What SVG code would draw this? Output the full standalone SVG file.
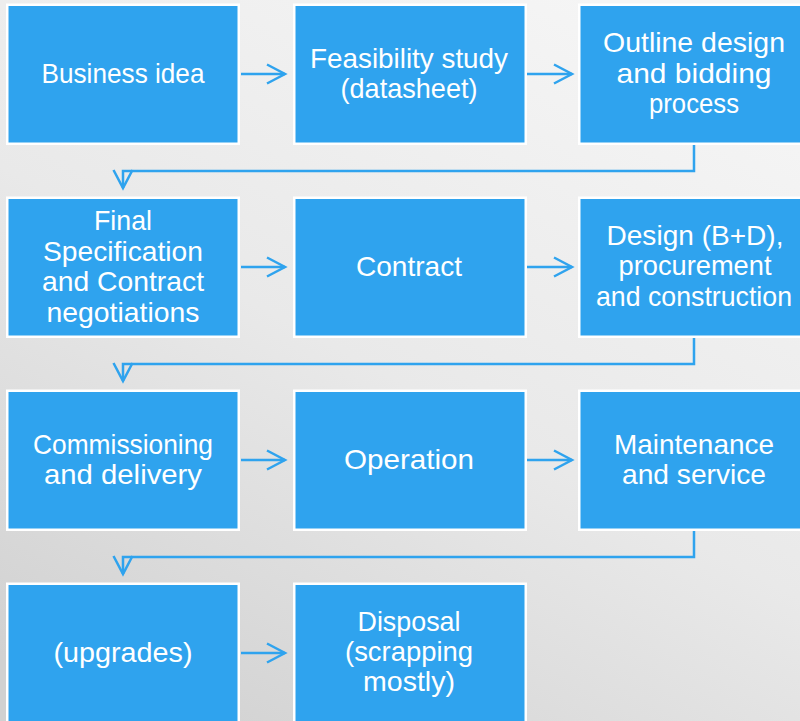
<svg xmlns="http://www.w3.org/2000/svg" width="800" height="721" viewBox="0 0 800 721">
<defs>
<linearGradient id="bg" x1="0.75" y1="0" x2="0.15" y2="1">
<stop offset="0" stop-color="#f5f5f5"/>
<stop offset="0.5" stop-color="#e9e9e9"/>
<stop offset="1" stop-color="#d1d1d1"/>
</linearGradient>
<marker id="arr" markerUnits="userSpaceOnUse" viewBox="-22 -12 26 24" markerWidth="26" markerHeight="24" refX="0" refY="0" orient="auto" overflow="visible">
<path d="M-18,-9.5 L0,0 L-18,9.5" fill="none" stroke="#2fa3ee" stroke-width="2.5"/>
</marker>
<style>
.box{fill:#2fa3ee;stroke:#ffffff;stroke-width:2.5}
.t{font-family:"Liberation Sans",Arial,sans-serif;font-size:28px;fill:#ffffff;text-anchor:middle}
.c{fill:none;stroke:#2fa3ee;stroke-width:2.5}
</style>
</defs>
<rect x="0" y="0" width="800" height="721" fill="url(#bg)"/>

<g id="n1"><rect class="box" x="7.25" y="4.75" width="231.5" height="139"/>
<text class="t" x="123" y="83" textLength="163" lengthAdjust="spacingAndGlyphs">Business idea</text></g>
<g id="n2"><rect class="box" x="294.25" y="4.75" width="231.5" height="139"/>
<text class="t" x="409" y="67.5" textLength="198" lengthAdjust="spacingAndGlyphs">Feasibility study</text>
<text class="t" x="409" y="98" textLength="137" lengthAdjust="spacingAndGlyphs">(datasheet)</text></g>
<g id="n3"><rect class="box" x="579.25" y="4.75" width="231.5" height="139"/>
<text class="t" x="694" y="52" textLength="182" lengthAdjust="spacingAndGlyphs">Outline design</text>
<text class="t" x="694" y="82.5" textLength="155" lengthAdjust="spacingAndGlyphs">and bidding</text>
<text class="t" x="694" y="113" textLength="90" lengthAdjust="spacingAndGlyphs">process</text></g>

<g id="n4"><rect class="box" x="7.25" y="197.75" width="231.5" height="139"/>
<text class="t" x="123" y="230" textLength="58" lengthAdjust="spacingAndGlyphs">Final</text>
<text class="t" x="123" y="260.5" textLength="160" lengthAdjust="spacingAndGlyphs">Specification</text>
<text class="t" x="123" y="291" textLength="162" lengthAdjust="spacingAndGlyphs">and Contract</text>
<text class="t" x="123" y="321.5" textLength="153" lengthAdjust="spacingAndGlyphs">negotiations</text></g>
<g id="n5"><rect class="box" x="294.25" y="197.75" width="231.5" height="139"/>
<text class="t" x="409" y="276" textLength="106" lengthAdjust="spacingAndGlyphs">Contract</text></g>
<g id="n6"><rect class="box" x="579.25" y="197.75" width="231.5" height="139"/>
<text class="t" x="695" y="244.5" textLength="177" lengthAdjust="spacingAndGlyphs">Design (B+D),</text>
<text class="t" x="695" y="275" textLength="153" lengthAdjust="spacingAndGlyphs">procurement</text>
<text class="t" x="694" y="305.5" textLength="196" lengthAdjust="spacingAndGlyphs">and construction</text></g>

<g id="n7"><rect class="box" x="7.25" y="390.75" width="231.5" height="139"/>
<text class="t" x="123" y="453.5" textLength="180" lengthAdjust="spacingAndGlyphs">Commissioning</text>
<text class="t" x="123" y="484" textLength="158" lengthAdjust="spacingAndGlyphs">and delivery</text></g>
<g id="n8"><rect class="box" x="294.25" y="390.75" width="231.5" height="139"/>
<text class="t" x="409" y="469" textLength="130" lengthAdjust="spacingAndGlyphs">Operation</text></g>
<g id="n9"><rect class="box" x="579.25" y="390.75" width="231.5" height="139"/>
<text class="t" x="694" y="453.5" textLength="160" lengthAdjust="spacingAndGlyphs">Maintenance</text>
<text class="t" x="694" y="484" textLength="144" lengthAdjust="spacingAndGlyphs">and service</text></g>

<g id="n10"><rect class="box" x="7.25" y="583.75" width="231.5" height="139"/>
<text class="t" x="123" y="662" textLength="139" lengthAdjust="spacingAndGlyphs">(upgrades)</text></g>
<g id="n11"><rect class="box" x="294.25" y="583.75" width="231.5" height="139"/>
<text class="t" x="409" y="631" textLength="103" lengthAdjust="spacingAndGlyphs">Disposal</text>
<text class="t" x="409" y="661" textLength="128" lengthAdjust="spacingAndGlyphs">(scrapping</text>
<text class="t" x="409" y="691" textLength="92" lengthAdjust="spacingAndGlyphs">mostly)</text></g>

<g id="connectors">
<path class="c" d="M241,74 H285" marker-end="url(#arr)"/>
<path class="c" d="M527,74 H572" marker-end="url(#arr)"/>
<path class="c" d="M694,145 V171 H123 V188" marker-end="url(#arr)"/>
<path class="c" d="M241,267 H285" marker-end="url(#arr)"/>
<path class="c" d="M527,267 H572" marker-end="url(#arr)"/>
<path class="c" d="M694,338 V364 H123 V381" marker-end="url(#arr)"/>
<path class="c" d="M241,460 H285" marker-end="url(#arr)"/>
<path class="c" d="M527,460 H572" marker-end="url(#arr)"/>
<path class="c" d="M694,531 V557 H123 V574" marker-end="url(#arr)"/>
<path class="c" d="M241,653 H285" marker-end="url(#arr)"/>
</g>
</svg>
